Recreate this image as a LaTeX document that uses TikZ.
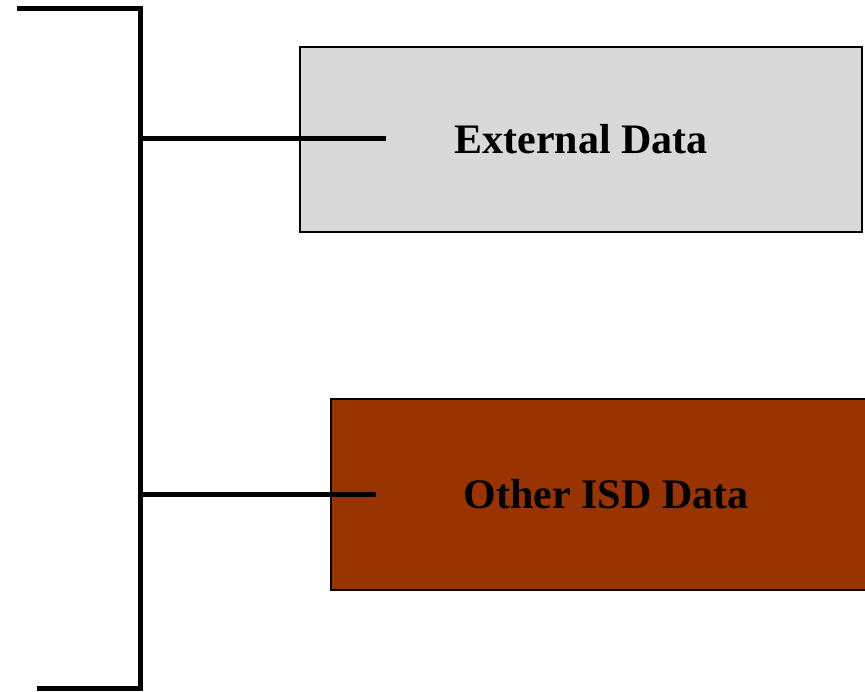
\documentclass[tikz,border=0pt]{standalone}
\usepackage{fontspec}
\setmainfont{Liberation Serif}
\definecolor{extgray}{HTML}{D9D9D9}
\definecolor{isdbrown}{HTML}{993300}
\tikzset{
  databox/.style={draw=black, line width=2pt, minimum width=#1, minimum height=185pt,
    inner sep=0pt, font=\fontsize{42}{48}\selectfont\bfseries},
  bracket/.style={line width=5pt}
}
\begin{document}
\begin{tikzpicture}[x=1pt,y=-1pt]
        \useasboundingbox (0,0) rectangle (865,691);

        % Boxes
        \node[databox=562pt, fill=extgray] (ext) at (581,139) {External Data};
        \node[databox=550pt, fill=isdbrown, minimum height=191pt] (isd) at (606,494) {Other ISD Data};

        % Bracket
        \coordinate (top) at (17,8.5);
        \coordinate (bot) at (37,688.5);
        \coordinate (spinetop) at (140,8.5);
        \coordinate (spinebot) at (140,688.5);
        \draw[bracket] (top) -- (spinetop) -- (spinebot) -- (bot);

        % Branches
        \coordinate (extend) at (386,138);
        \coordinate (isdend) at (376,494);
        \draw[bracket] (140,138) -- (extend);
        \draw[bracket] (140,494) -- (isdend);
      \end{tikzpicture}
\end{document}
